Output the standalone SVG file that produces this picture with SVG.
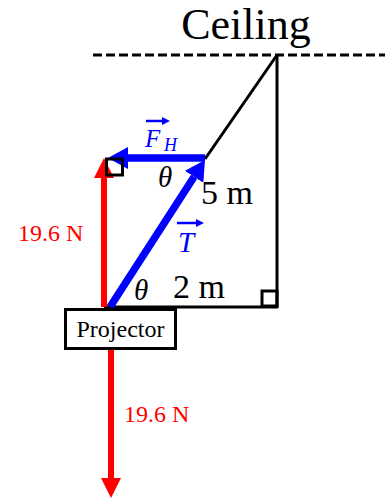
<svg xmlns="http://www.w3.org/2000/svg" width="385" height="499" viewBox="0 0 385 499">
<style>
.ln{stroke:#000;stroke-width:3;fill:none}
.red{stroke:#ff0000;stroke-width:6;fill:none}
.blue{stroke:#0000ff;stroke-width:7.5;fill:none}
.t{font-family:"Liberation Serif","Times New Roman",serif}
.rt{fill:#ff0000;font-size:24px}
.bt{fill:#0000ff;font-style:italic}
.kt{fill:#000;font-size:34px}
.th{fill:#000;font-style:italic;font-size:29px}
</style>
<defs>
<marker id="hr" markerUnits="userSpaceOnUse" markerWidth="20" markerHeight="20" viewBox="0 0 20 20" refX="0" refY="10" orient="auto"><path d="M0,0 L20,10 L0,20 z" fill="#ff0000"/></marker>
<marker id="hb" markerUnits="userSpaceOnUse" markerWidth="20" markerHeight="22" viewBox="0 0 20 22" refX="0" refY="11" orient="auto"><path d="M0,0 L20,11 L0,22 z" fill="#0000ff"/></marker>
<marker id="hs" markerUnits="userSpaceOnUse" markerWidth="8" markerHeight="8" viewBox="0 0 8 8" refX="0" refY="4" orient="auto"><path d="M0,0 L8,4 L0,8 z" fill="#0000ff"/></marker>
</defs>
<g id="ceiling">
<text class="t" x="246" y="39" font-size="44" text-anchor="middle">Ceiling</text>
<line class="ln" x1="93" y1="55" x2="385" y2="55" stroke-dasharray="9 4"/>
</g>
<g id="connectors">
<line class="ln" x1="277" y1="55" x2="277" y2="308"/>
<line class="ln" x1="104" y1="307" x2="278" y2="307"/>
<line class="ln" x1="277" y1="55" x2="205" y2="159"/>
<rect class="ln" x="262" y="291" width="15" height="15"/>
<line class="red" x1="104" y1="307" x2="104" y2="178" marker-end="url(#hr)"/>
<line class="red" x1="111" y1="349" x2="111" y2="478" marker-end="url(#hr)"/>
<line class="blue" x1="205" y1="158" x2="128" y2="158" marker-end="url(#hb)"/>
<line class="blue" x1="110" y1="307" x2="194.1" y2="176.8" marker-end="url(#hb)"/>
<rect class="ln" x="106.5" y="159" width="16" height="16"/>
</g>
<g id="projector">
<rect x="65.5" y="309.5" width="110" height="39" fill="#fff" stroke="#000" stroke-width="3"/>
<text class="t" x="120.5" y="337" font-size="24" text-anchor="middle">Projector</text>
</g>
<g id="labels">
<text class="t rt" x="18" y="241">19.6 N</text>
<text class="t rt" x="124" y="422">19.6 N</text>
<text class="t kt" x="201" y="204">5 m</text>
<text class="t kt" x="173" y="298">2 m</text>
<text class="t th" x="158" y="187">θ</text>
<text class="t th" x="134" y="300">θ</text>
<line x1="146" y1="121" x2="162" y2="121" stroke="#0000ff" stroke-width="2.5" marker-end="url(#hs)"/>
<text class="t bt" x="145" y="147" font-size="25">F</text>
<text class="t bt" x="164" y="151" font-size="18">H</text>
<line x1="177" y1="223" x2="196" y2="223" stroke="#0000ff" stroke-width="2.5" marker-end="url(#hs)"/>
<text class="t bt" x="178" y="252" font-size="29">T</text>
</g>
</svg>
